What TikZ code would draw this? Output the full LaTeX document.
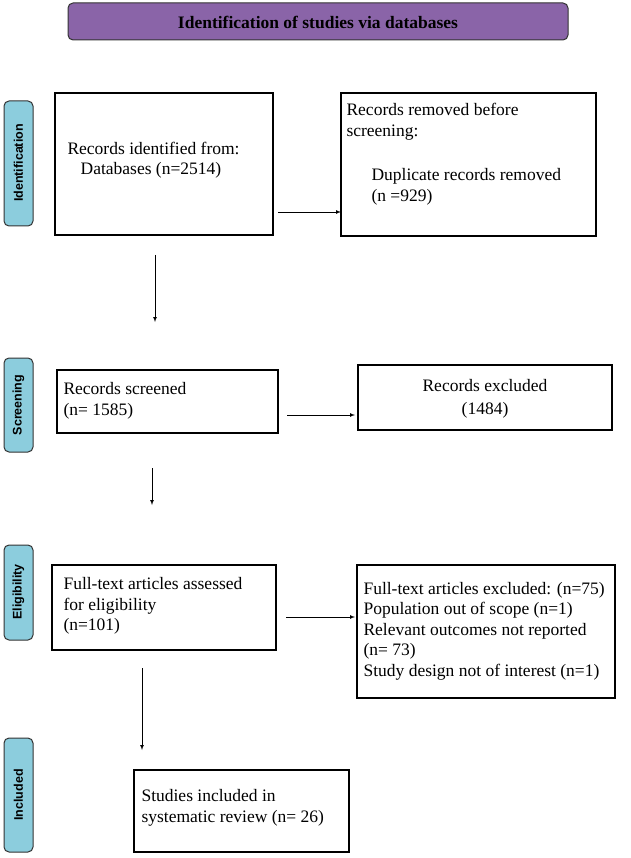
\documentclass[tikz,border=0pt]{standalone}
\usepackage{fontspec}
\setmainfont{Liberation Serif}
\newfontfamily\sidefont{Liberation Sans}
\definecolor{hdr}{HTML}{8A64A8}
\definecolor{sidefill}{HTML}{8CCDDD}
\begin{document}
\begin{tikzpicture}[x=1pt,y=-1pt,
 box/.style={draw=black,line width=1.8pt},
 side/.style={draw=black!80,fill=sidefill,rounded corners=5pt,line width=1pt},
 sidet/.style={rotate=90,font=\sidefont\bfseries\fontsize{12.5}{13}\selectfont},
 txt/.style={font=\fontsize{17.5}{20.5}\selectfont,align=left,anchor=west},
 arr/.style={-{latex},line width=0.7pt}]
\useasboundingbox (0,0) rectangle (630,858);
\draw[fill=hdr,draw=black!80,rounded corners=5pt,line width=1pt] (68,3) rectangle (568,40);
\node (h) at (318,22) {\bfseries\fontsize{17.5}{19}\selectfont Identification of studies via databases};
\draw[side] (4,101) rectangle (33,226); \node[sidet] (s1) at (18.5,163) {Identification};
\draw[side] (4,358) rectangle (33,452); \node[sidet] (s2) at (18.5,405) {Screening};
\draw[side] (4,545) rectangle (33,640); \node[sidet] (s3) at (18.5,592) {Eligibility};
\draw[side] (4,738) rectangle (33,852); \node[sidet] (s4) at (18.5,795) {Included};
\draw[box] (55,93) rectangle (273,235);
\node[txt] (t1) at (64,160) {Records identified from:\\\ \ \ Databases (n=2514)};
\draw[box] (341,93) rectangle (596,236);
\node[txt,anchor=north west] (t2) at (343,100) {Records removed before\\screening:};
\node[txt] (t2b) at (368,187) {Duplicate records removed\\(n =929)};
\coordinate (a1) at (278,212); \coordinate (a2) at (341,212);
\draw[arr] (a1)--(a2);
\coordinate (d1) at (155,255); \coordinate (d2) at (155,322);
\draw[arr] (d1)--(d2);
\draw[box] (57,370) rectangle (278,433);
\node[txt] (t3) at (60,401) {Records screened\\(n= 1585)};
\draw[box] (358,365) rectangle (612,430);
\node (t4) at (485,386) {\fontsize{17.5}{20}\selectfont Records excluded};
\node (t4b) at (485,410) {\fontsize{17.5}{20}\selectfont (1484)};
\coordinate (b1) at (287,415); \coordinate (b2) at (355,415);
\draw[arr] (b1)--(b2);
\coordinate (e1) at (152,468); \coordinate (e2) at (152,505);
\draw[arr] (e1)--(e2);
\draw[box] (52,565) rectangle (276,650);
\node[txt] (t5) at (60,606) {Full-text articles assessed\\for eligibility\\(n=101)};
\draw[box] (357,565) rectangle (615,698);
\node[txt] (t6) at (360,631) {Full-text articles excluded: (n=75)\\Population out of scope (n=1)\\Relevant outcomes not reported\\(n= 73)\\Study design not of interest (n=1)};
\coordinate (c1) at (286,617); \coordinate (c2) at (355,617);
\draw[arr] (c1)--(c2);
\coordinate (f1) at (142,668); \coordinate (f2) at (142,750);
\draw[arr] (f1)--(f2);
\draw[box] (134,770) rectangle (349,852);
\node[txt] (t7) at (138,808) {Studies included in\\systematic review (n= 26)};
\end{tikzpicture}
\end{document}
